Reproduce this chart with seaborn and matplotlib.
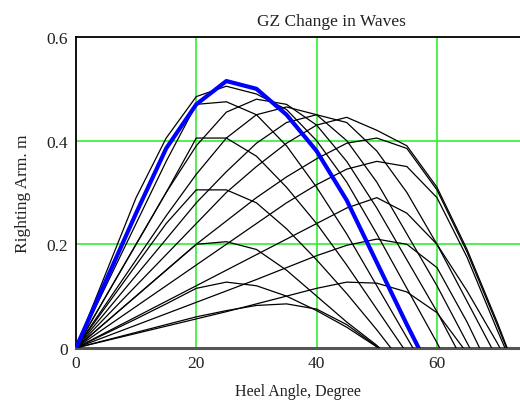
import numpy as np
import pandas as pd
import seaborn as sns
import matplotlib
matplotlib.use("Agg")
import matplotlib.pyplot as plt

# heel angles (deg) at which GZ was tabulated
angles = [0, 5, 10, 15, 20, 25, 30, 35, 40, 45, 50, 55, 60, 65, 70, 75]

# GZ (m) for each wave crest position; values past vanishing are clipped by the axes
gz_blue = [0, 0.13, 0.26, 0.385, 0.47, 0.515, 0.50, 0.45, 0.38, 0.285, 0.165, 0.045, -0.07, -0.19, -0.30, -0.40]
gz_01 = [0, 0.145, 0.29, 0.405, 0.485, 0.505, 0.49, 0.46, 0.40, 0.32, 0.22, 0.115, 0.01, -0.10, -0.20, -0.30]
gz_02 = [0, 0.10, 0.20, 0.30, 0.39, 0.455, 0.48, 0.47, 0.43, 0.36, 0.27, 0.17, 0.07, -0.04, -0.15, -0.25]
gz_03 = [0, 0.085, 0.17, 0.255, 0.335, 0.405, 0.45, 0.465, 0.45, 0.40, 0.32, 0.22, 0.12, 0.01, -0.10, -0.20]
gz_04 = [0, 0.07, 0.14, 0.21, 0.28, 0.34, 0.395, 0.435, 0.45, 0.435, 0.38, 0.30, 0.20, 0.09, -0.02, -0.12]
gz_05 = [0, 0.06, 0.12, 0.18, 0.24, 0.30, 0.35, 0.395, 0.43, 0.445, 0.42, 0.39, 0.31, 0.19, 0.05, -0.10]
gz_06 = [0, 0.05, 0.10, 0.15, 0.20, 0.245, 0.29, 0.33, 0.365, 0.395, 0.405, 0.385, 0.305, 0.185, 0.045, -0.10]
gz_07 = [0, 0.04, 0.08, 0.12, 0.16, 0.20, 0.24, 0.28, 0.315, 0.345, 0.36, 0.35, 0.29, 0.175, 0.035, -0.10]
gz_08 = [0, 0.03, 0.06, 0.09, 0.12, 0.15, 0.18, 0.21, 0.24, 0.27, 0.29, 0.26, 0.20, 0.11, 0.01, -0.10]
gz_09 = [0, 0.022, 0.044, 0.066, 0.088, 0.11, 0.132, 0.155, 0.178, 0.198, 0.21, 0.20, 0.155, 0.05, -0.07, -0.15]
gz_10 = [0, 0.014, 0.028, 0.042, 0.056, 0.07, 0.085, 0.10, 0.115, 0.127, 0.125, 0.108, 0.068, -0.01, -0.10, -0.15]
gz_11 = [0, 0.015, 0.03, 0.045, 0.06, 0.072, 0.082, 0.085, 0.075, 0.045, 0.003, -0.04, -0.08, -0.12, -0.15, -0.18]
gz_12 = [0, 0.028, 0.056, 0.085, 0.115, 0.127, 0.12, 0.10, 0.072, 0.04, 0.002, -0.04, -0.08, -0.12, -0.15, -0.18]
gz_13 = [0, 0.05, 0.10, 0.15, 0.20, 0.205, 0.19, 0.15, 0.10, 0.05, 0.005, -0.05, -0.10, -0.15, -0.18, -0.20]
gz_14 = [0, 0.08, 0.16, 0.24, 0.305, 0.305, 0.28, 0.23, 0.17, 0.105, 0.035, -0.04, -0.10, -0.15, -0.18, -0.20]
gz_15 = [0, 0.10, 0.20, 0.30, 0.405, 0.405, 0.37, 0.31, 0.24, 0.16, 0.075, -0.01, -0.09, -0.15, -0.18, -0.20]
gz_16 = [0, 0.12, 0.24, 0.36, 0.47, 0.475, 0.45, 0.39, 0.31, 0.22, 0.12, 0.02, -0.08, -0.15, -0.18, -0.20]

black_curves = [gz_01, gz_02, gz_03, gz_04, gz_05, gz_06, gz_07, gz_08,
                gz_09, gz_10, gz_11, gz_12, gz_13, gz_14, gz_15, gz_16]

rows = []
for i, vals in enumerate(black_curves):
    for a, g in zip(angles, vals):
        rows.append({"curve": i, "angle": a, "gz": g})
df = pd.DataFrame(rows)
df_blue = pd.DataFrame({"angle": angles, "gz": gz_blue})

sns.set_theme(style="white")
plt.rcParams['font.family'] = ['Liberation Serif', 'DejaVu Serif']

fig = plt.figure(figsize=(5.2, 4.02), dpi=100)
ax = fig.add_axes([0.146, 0.132, 0.854, 0.7735])

sns.lineplot(data=df, x="angle", y="gz", units="curve", estimator=None,
             color="black", linewidth=0.9, ax=ax, zorder=3)
sns.lineplot(data=df_blue, x="angle", y="gz", color="#0000ff",
             linewidth=3.0, ax=ax, zorder=4)

ax.set_xlim(0, 73.8)
ax.set_ylim(0, 0.6)
ax.set_xticks([0, 20, 40, 60])
ax.set_xticklabels(["0", "20", "40", "60"])
ax.set_yticks([0, 0.2, 0.4, 0.6])
ax.set_yticklabels(["0", "0.2", "0.4", "0.6"])
ax.tick_params(length=0, labelsize=12.5, colors="#222222")
ax.tick_params(axis="x", pad=5)
ax.tick_params(axis="y", pad=6)

for v in [20, 40, 60]:
    ax.axvline(v, color="#33ee33", linewidth=1.2, zorder=1)
for v in [0.2, 0.4]:
    ax.axhline(v, color="#33ee33", linewidth=1.2, zorder=1)

for side in ["left", "top"]:
    ax.spines[side].set_color("black")
    ax.spines[side].set_linewidth(1.3)
ax.spines["bottom"].set_color("#555555")
ax.spines["bottom"].set_linewidth(2.2)
ax.spines["right"].set_visible(False)

ax.set_xlabel("Heel Angle, Degree", fontsize=11.5, color="#222222", labelpad=9)
ax.set_ylabel("Righting Arm. m", fontsize=12.5, color="#222222", labelpad=11)
fig.text(0.638, 0.945, "GZ Change in Waves", ha="center", va="center",
         fontsize=12.5, color="#222222")

fig.savefig("out.png", dpi=100)
plt.close(fig)
